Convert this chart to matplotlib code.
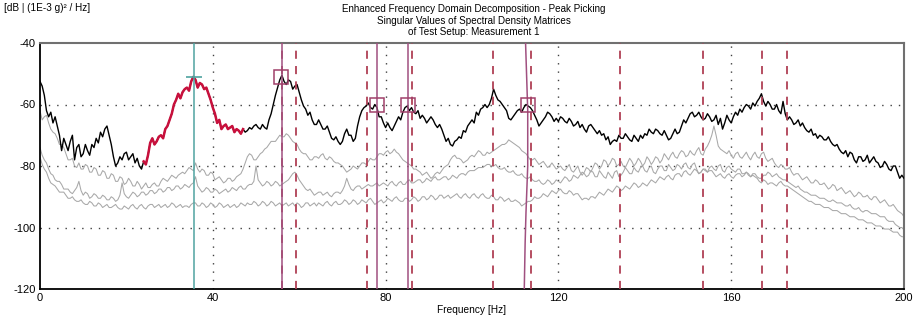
import matplotlib
matplotlib.use("Agg")
import matplotlib.pyplot as plt
import numpy as np

plt.rcParams['font.family'] = ['Liberation Sans', 'DejaVu Sans']

# ---------------- data ----------------
freq = list(range(0, 201))  # Hz, whole-Hz grid of the singular value curves

# first singular value at whole Hz
sv1_int = [-52.5, -57, -64, -66, -67, -75, -73, -72, -78, -73,
           -76, -75, -73, -71, -69, -68, -70, -77, -79, -78,
           -75.5, -77, -79, -80, -78.5, -76.5, -71, -72, -70, -68,
           -65, -60, -56.5, -56, -54.5, -52.5, -52, -53, -55, -56.5,
           -61, -66, -68, -66.5, -67.5, -69, -68.5, -68, -68.5, -68,
           -66.5, -68, -67.5, -65, -60, -54.5, -50.5, -53.5, -52.5, -54,
           -56, -60.5, -63.5, -65, -66.5, -66.5, -68, -69, -71.5, -72,
           -72, -68, -70, -71, -64, -61, -59.5, -61.5, -61, -64,
           -67.5, -67.5, -67, -64, -62.5, -60.5, -61, -63, -64.5, -64.5,
           -65, -65, -67.5, -68, -72, -73, -72, -70.5, -68.5, -67,
           -65, -62.5, -61.5, -60, -60, -55, -58.5, -60, -62, -65,
           -63, -61.5, -61, -60.5, -62, -65, -66, -64, -63, -65.5,
           -65.5, -64.5, -66, -65.5, -66.5, -67.5, -68, -67, -67.5, -69.5,
           -70, -71.5, -73, -71.5, -70, -71, -70.5, -72, -71, -70,
           -69.5, -68, -69.5, -68.5, -70, -70, -71, -68, -69, -65,
           -64.5, -62.5, -63.5, -64, -64.5, -64, -65, -66.5, -68, -63.5,
           -66, -62.5, -61.5, -61, -60.5, -59.5, -59, -56.5, -60.5, -60,
           -61.5, -62, -59, -65, -65, -66, -67, -67.5, -69, -70,
           -71, -70.5, -71.5, -72, -73.5, -74.5, -76, -77, -76, -79,
           -77, -78, -79, -77, -79, -80, -79.5, -81.5, -80, -84,
           -84]
# first singular value at the half-Hz points (0.5 ... 199.5)
sv1_half = [-54, -62, -62.5, -64, -70, -71, -75, -70, -74, -77,
            -73, -76.5, -74, -72.5, -70.5, -67, -73, -80, -77, -76,
            -78, -76, -77.5, -81, -79.5, -72.5, -73, -70.5, -71, -67,
            -63, -58.5, -58, -55, -55.5, -51, -54.5, -53.5, -54.5, -58.5,
            -63, -65, -67, -68, -67, -68, -69.5, -69, -67.5, -67,
            -67.5, -66.5, -68, -63, -57, -52, -52.5, -52, -55, -53.5,
            -58.5, -61.5, -62.5, -66.5, -65, -68, -67, -71, -70.5, -73,
            -69.5, -70, -72, -67, -62, -60.5, -61, -60, -64, -66,
            -66, -68.5, -65.5, -65, -61, -62, -62.5, -62, -63.5, -66,
            -64, -66.5, -66.5, -70, -71, -73.5, -71.5, -71, -69, -66,
            -66, -63.5, -61, -61, -58, -57, -59, -61, -64.5, -64,
            -62, -62.5, -60, -61, -63.5, -67, -65, -62.5, -64, -64.5,
            -64, -65.5, -64.5, -67, -65.5, -66.5, -69, -66.5, -68.5, -68.5,
            -69.5, -70.5, -72, -72, -71, -69.5, -71.5, -70, -72, -71,
            -70, -69, -68, -69.5, -68.5, -71.5, -69.5, -69.5, -67, -66,
            -63, -64, -62.5, -65, -63, -65.5, -63.5, -64.5, -66, -65,
            -64, -63.5, -62.5, -60, -61.5, -60.5, -58, -59, -59, -61.5,
            -60, -63, -63, -64, -66.5, -65, -66, -68.5, -68, -69.5,
            -70, -71.5, -70.5, -73, -73, -75.5, -75, -75.5, -78, -77,
            -78.5, -76.5, -78, -78.5, -80.5, -78.5, -81, -80, -82, -83]

sv2_int = [-62, -64, -66, -69, -71, -73, -76, -78, -80, -79,
           -81, -80, -82, -81, -83, -82, -84, -83, -85, -84,
           -85.5, -85, -86.5, -86, -86.5, -87, -86, -86.5, -85, -84.5,
           -84, -83.5, -83, -82, -81.5, -81, -79, -82, -81.5, -83,
           -82.5, -84, -84.5, -85, -84, -84.5, -83, -81, -77, -76.5,
           -78, -76, -74.5, -73, -72, -71, -70.5, -69.5, -71, -72.5,
           -74.5, -76, -77, -78, -77, -76.5, -77.5, -77, -78.5, -79,
           -80, -82, -81, -80.5, -80, -79, -78.5, -78, -77, -76,
           -75.5, -76, -74.5, -76, -78, -79, -80, -81, -82, -82.5,
           -83, -83.5, -82, -81.5, -80, -78, -76.5, -77.5, -79, -78,
           -76.5, -76, -75.5, -76.5, -76, -75, -74, -73, -72.5, -72,
           -73, -74, -75.5, -77, -78, -78.5, -79, -79.5, -80, -80,
           -80.5, -81, -80.5, -81.5, -81, -82, -82, -81, -80.5, -79.5,
           -80, -78.5, -79, -78, -79.5, -80, -79, -78.5, -79, -78.5,
           -79, -78, -78.5, -77.5, -78, -77, -76.5, -77, -76, -75.5,
           -76.5, -76, -75, -76, -74.5, -72, -67, -73.5, -75, -76,
           -76.5, -76, -77, -76.5, -77, -76.5, -77, -76, -77.5, -78,
           -79, -80.5, -80, -81, -82, -82.5, -83.5, -84, -84.5, -85.5,
           -85, -86, -86.5, -87, -86.5, -87.5, -88, -88.5, -89, -89.5,
           -89, -90, -90.5, -90, -91, -91.5, -92, -93, -93.5, -95,
           -96.5]
sv2_half = [-65, -63.5, -68, -69.5, -73, -74, -78, -77.5, -80.5, -81,
            -79.5, -82, -80.5, -83, -81.5, -84, -82.5, -85, -83.5, -86,
            -84, -86.5, -85, -87.5, -85.5, -87, -85.5, -86.5, -84, -85,
            -83, -84, -82.5, -82.5, -80.5, -81.5, -81, -81, -83, -82,
            -84.5, -83.5, -85.5, -84, -85, -83.5, -82.5, -79, -76, -78,
            -77, -75.5, -74, -72, -72, -70, -70.5, -70, -72, -73,
            -75.5, -76, -78, -77, -77.5, -76, -78, -77.5, -79, -79.5,
            -81, -81.5, -80, -81, -79, -79.5, -77.5, -78, -76, -76.5,
            -75, -75.5, -75.5, -77, -78.5, -79.5, -81, -81.5, -83, -82,
            -84, -82.5, -82.5, -80.5, -79.5, -77, -77.5, -78, -78.5, -77,
            -77, -75, -76.5, -75.5, -75.5, -74.5, -73.5, -73, -71.5, -72.5,
            -73.5, -75, -76, -78, -77.5, -79.5, -78.5, -80.5, -79, -81,
            -80, -81.5, -79.5, -82, -80, -83, -80.5, -82, -79, -81,
            -78, -80, -77.5, -80, -78.5, -80.5, -77.5, -80, -77.5, -80,
            -77, -79.5, -77, -79, -76, -78, -75.5, -77.5, -75, -77,
            -75, -76.5, -74, -76.5, -73.5, -70, -70, -74.5, -75.5, -75,
            -77.5, -75.5, -77.5, -75.5, -78, -75.5, -77.5, -75.5, -78.5, -77.5,
            -80, -79.5, -81, -80.5, -83, -82.5, -84.5, -83.5, -85.5, -84.5,
            -86, -85.5, -87.5, -86, -88, -87, -89, -88, -90, -88.5,
            -90, -89.5, -91, -90, -92, -91, -93, -92.5, -94.5, -95.5]

sv3_int = [-74, -78, -81, -83, -85, -86, -87.5, -88.5, -88, -85,
           -89.5, -89, -90, -89.5, -90.5, -90, -91, -90.5, -91, -85.5,
           -90, -89.5, -89, -89.5, -88.5, -89, -88, -88.5, -87.5, -88,
           -87, -87.5, -86.5, -87, -86.5, -86, -83.5, -87.5, -88, -87.5,
           -88.5, -88, -88.5, -87.5, -88, -87.5, -87, -87.5, -86.5, -86,
           -80, -85.5, -86, -85.5, -86, -85.5, -86, -85, -83.5, -82,
           -84.5, -86.5, -88, -88.5, -89, -88.5, -89, -89.5, -89, -88.5,
           -88, -84, -87.5, -87, -86.5, -87, -86, -86.5, -85.5, -86,
           -86, -85.5, -86, -85.5, -86, -85, -85.5, -85, -84.5, -85,
           -84.5, -84, -84.5, -84, -83.5, -84, -83.5, -83, -82.5, -82,
           -81.5, -81, -80.5, -80, -79.5, -80, -80.5, -81, -81.5, -82,
           -82.5, -83, -83.5, -84, -84.5, -85, -85.5, -85.5, -85, -85.5,
           -85, -84.5, -84, -84.5, -83.5, -83, -82.5, -83, -82, -83.5,
           -82.5, -84, -83, -82, -83.5, -82, -81.5, -82.5, -81.5, -80.5,
           -81.5, -80.5, -82, -81, -80, -81.5, -80.5, -81, -80, -79.5,
           -80.5, -79.5, -81, -82, -81.5, -80.5, -81, -80, -81.5, -80.5,
           -81, -82, -81, -82.5, -83, -82.5, -83.5, -84, -83, -82.5,
           -83, -83.5, -84.5, -85, -86, -87, -87.5, -88.5, -89, -89.5,
           -90, -90.5, -91, -91.5, -91.5, -92, -92.5, -93, -93.5, -94,
           -94.5, -94.5, -95, -95.5, -96, -96.5, -97.5, -98, -99, -100,
           -100.8]
sv3_half = [-76.5, -79, -82.5, -84.5, -85, -87.5, -87.5, -89, -87, -88,
            -88.5, -90.5, -89, -90.5, -89.5, -91, -90, -91.5, -89.5, -89,
            -90.5, -88.5, -90, -88.5, -89.5, -88, -89, -87.5, -88.5, -87,
            -88, -86.5, -87.5, -86, -87, -85.5, -86.5, -88.5, -87, -88.5,
            -87.5, -89, -88, -88.5, -87, -88, -86.5, -87.5, -86, -85,
            -84.5, -86.5, -85, -86.5, -85, -86.5, -85.5, -84.5, -82.5, -83,
            -85.5, -87.5, -87.5, -89.5, -88.5, -89.5, -88.5, -90, -88.5, -89,
            -86.5, -86, -88, -86.5, -87.5, -86.5, -86.5, -86, -86.5, -85.5,
            -86.5, -85, -86.5, -85, -86, -84.5, -85.5, -84.5, -85.5, -84,
            -85, -83.5, -84.5, -83.5, -84.5, -83, -84, -82.5, -83, -81.5,
            -81.5, -80.5, -80.5, -79.5, -80, -79.5, -81, -80.5, -82, -81.5,
            -83, -82.5, -84, -83.5, -85, -84.5, -86, -84.5, -86, -84.5,
            -85.5, -83.5, -85, -83, -84, -82, -83.5, -81.5, -83.5, -81.5,
            -83.5, -82, -84, -81.5, -83, -80.5, -82.5, -80.5, -82, -80,
            -82, -80, -82.5, -80, -81.5, -79.5, -81.5, -79.5, -81, -79,
            -81, -79, -82.5, -81, -82, -80, -81.5, -79.5, -82, -80,
            -81.5, -81, -82.5, -82, -83.5, -82.5, -84, -83, -82, -83.5,
            -82.5, -84, -84.5, -85.5, -86.5, -86.5, -88, -88.5, -89.5, -89.5,
            -90.5, -90.5, -91.5, -91, -92, -92, -93, -92.5, -94, -93.5,
            -95, -94.5, -95.5, -95.5, -96.5, -96.5, -98, -98, -99.5, -100]

sv4_int = [-77, -81, -84, -86, -87.5, -88.5, -89.5, -90.5, -91, -91.5,
           -92, -92.5, -92, -93, -92.5, -93, -93.5, -93, -93.5, -94,
           -93.5, -93, -93.5, -93, -93.5, -93, -92.5, -93, -93.5, -92.5,
           -93, -92.5, -93, -93.5, -93, -92.5, -92, -93, -92.5, -93,
           -92.5, -93, -92.5, -93, -93.5, -92.5, -93, -92.5, -92, -92.5,
           -92, -92.5, -92, -92.5, -92, -92.5, -93, -92, -92.5, -93,
           -92.5, -93, -92, -92.5, -93, -92.5, -92, -92.5, -92, -92.5,
           -92, -91.5, -92, -91.5, -92, -91.5, -91, -91.5, -92, -91,
           -91.5, -91, -90.5, -91, -91.5, -90.5, -91, -90.5, -91, -90,
           -90.5, -90, -90.5, -89.5, -90, -90.5, -89.5, -90, -89.5, -90,
           -89.5, -90, -89.5, -90, -90.5, -90, -91, -90.5, -91, -91.5,
           -91, -92, -92.5, -91.5, -91, -90.5, -90, -89.5, -89, -88.5,
           -88, -88.5, -89, -88.5, -89, -90, -90.5, -91, -90, -89.5,
           -89, -88.5, -88, -87.5, -87, -87.5, -87, -86.5, -86, -86.5,
           -86, -85.5, -85, -84.5, -84, -83.5, -84, -83, -82.5, -82,
           -82.5, -82, -81.5, -82, -81, -81.5, -82.5, -83, -83.5, -83,
           -83.5, -83, -82.5, -83, -82.5, -83, -84, -85.5, -85, -85.5,
           -86, -85.5, -86, -86.5, -87.5, -88.5, -89.5, -90.5, -91.5, -92,
           -92.5, -93, -93.5, -94, -94.5, -95, -95.5, -96, -96.5, -97,
           -97.5, -98, -98.5, -99, -99.5, -100, -100.5, -101, -101.5, -102.5,
           -103]
sv4_half = [-79.5, -82, -85.5, -86.5, -88.5, -88.5, -90.5, -90, -91.5, -91,
            -92.5, -91.5, -93, -92, -93.5, -92.5, -93.5, -92.5, -94, -93,
            -94, -92.5, -94, -92.5, -94, -92.5, -93.5, -92.5, -93, -93.5,
            -92, -93.5, -92.5, -93, -93.5, -92, -93, -92, -93.5, -92,
            -93.5, -92, -93.5, -92.5, -93, -93.5, -92, -93, -92.5, -91.5,
            -93, -91.5, -93, -91.5, -93, -92, -92.5, -93, -92, -92,
            -93.5, -92, -93, -92, -92, -93, -91.5, -93, -91.5, -92.5,
            -91, -92.5, -91, -92.5, -91, -92, -90.5, -92.5, -91.5, -92,
            -90.5, -91.5, -90, -91.5, -90.5, -91.5, -90, -91.5, -90, -91,
            -89.5, -91, -89.5, -90.5, -89.5, -90, -89, -90.5, -89, -90.5,
            -89, -90.5, -89, -90.5, -89.5, -91, -90, -91.5, -90.5, -91.5,
            -91.5, -93, -92, -91.5, -90, -90.5, -89, -90, -88, -89,
            -87.5, -89, -88, -89.5, -89, -91, -90.5, -90, -90.5, -88.5,
            -89.5, -87.5, -88.5, -86.5, -88, -86.5, -87.5, -85.5, -87, -85.5,
            -86.5, -84.5, -85.5, -83.5, -84.5, -83, -84.5, -82.5, -83.5, -81.5,
            -83, -81, -82.5, -81, -82, -81.5, -83.5, -82.5, -84, -82.5,
            -84, -82.5, -83.5, -82, -83.5, -83.5, -85, -84.5, -86, -85.5,
            -86.5, -85, -86.5, -87, -88, -89, -90, -91, -91.5, -92.5,
            -92.5, -93.5, -93.5, -94.5, -94.5, -95.5, -95.5, -96.5, -96.5, -97.5,
            -97.5, -98.5, -98.5, -99.5, -99.5, -100.5, -100.5, -101.5, -101.5, -103]

# selected band (highlighted) of the first singular value, Hz
band_start, band_end = 24, 47

# peak picking markers
peak_f = [55.8, 78.1, 85.3, 113.0]
peak_db = [-51, -60, -60, -60]

# frequency lines
dashed_f = [56.1, 59.2, 75.6, 86.2, 104.9, 113.6, 134.3, 153.5, 167.2, 172.9]
solid_f = [56.0, 78.0, 85.2]
slanted_f = [112.4, 112.9, 112.9, 112.5, 112.3, 112.1]
slanted_db = [-40, -62, -80, -95, -105, -120]
cursor_f = 35.6
cursor_db = -51

title_lines = ["Enhanced Frequency Domain Decomposition - Peak Picking",
               "Singular Values of Spectral Density Matrices",
               "of Test Setup: Measurement 1"]
ylabel_text = "[dB | (1E-3 g)\u00b2 / Hz]"
xlabel_text = "Frequency [Hz]"
xticks = [0, 40, 80, 120, 160, 200]
yticks = [-40, -60, -80, -100, -120]


def merge(ints, halves):
    fx, vals = [], []
    for i in range(len(ints)):
        fx.append(freq[i])
        vals.append(ints[i])
        if i < len(halves):
            fx.append(freq[i] + 0.5)
            vals.append(halves[i])
    return np.array(fx), np.array(vals)


f_fine, sv1 = merge(sv1_int, sv1_half)
_, sv2 = merge(sv2_int, sv2_half)
_, sv3 = merge(sv3_int, sv3_half)
_, sv4 = merge(sv4_int, sv4_half)
band = (f_fine >= band_start) & (f_fine <= band_end)

# ---------------- figure ----------------
fig = plt.figure(figsize=(9.2, 3.2), dpi=100)
ax = fig.add_axes([40/920, 1-289/320, 864/920, 246/320])

ax.set_xlim(0, 200)
ax.set_ylim(-120, -40)

for gx in xticks[1:-1]:
    ax.axvline(gx, color='#404040', lw=1.0, ls=(0, (1, 5)), zorder=1)
for gy in yticks[1:-1]:
    ax.axhline(gy, color='#404040', lw=1.0, ls=(0, (1, 5)), zorder=1)

grey = '#a8a8a8'
ax.plot(f_fine, sv4, color=grey, lw=0.75, zorder=2)
ax.plot(f_fine, sv3, color=grey, lw=0.75, zorder=2)
ax.plot(f_fine, sv2, color=grey, lw=0.75, zorder=2)
ax.plot(f_fine, sv1, color='black', lw=1.0, zorder=3)
ax.plot(f_fine[band], sv1[band], color='#c8103c', lw=1.8, zorder=4)

dash_col = '#b04055'
for f in dashed_f:
    ax.axvline(f, color=dash_col, lw=1.3, dashes=(4.5, 4), zorder=5)
sol_col = '#a05080'
for f in solid_f:
    ax.axvline(f, color=sol_col, lw=1.1, zorder=5)
ax.plot(slanted_f, slanted_db, color=sol_col, lw=1.1, zorder=5)

ax.axvline(cursor_f, color='#4fa3a0', lw=1.1, zorder=5)
ax.plot([cursor_f], [cursor_db], marker='_', ms=11, mew=1.2,
        color='#4fa3a0', zorder=6)

ax.plot(peak_f, peak_db, ls='none', marker='s', ms=10.5, mfc='none',
        mec='#a0406a', mew=1.1, zorder=6)

for s in ['left', 'bottom']:
    ax.spines[s].set_color('black')
    ax.spines[s].set_linewidth(1.3)
for s in ['top', 'right']:
    ax.spines[s].set_color('#707070')
    ax.spines[s].set_linewidth(1.5)

ax.set_xticks(xticks)
ax.set_yticks(yticks)
ax.set_xticklabels([str(v) for v in xticks], fontsize=8)
ax.set_yticklabels([str(v) for v in yticks], fontsize=8)
ax.tick_params(length=0, pad=3)

ax.set_xlabel(xlabel_text, fontsize=7.3, labelpad=1)

fig.text(4/920, 1-8/320, ylabel_text, fontsize=7.2, ha='left', va='center')
for i, line in enumerate(title_lines):
    fig.text(474/920, 1-(9+11.5*i)/320, line, fontsize=7.1,
             ha='center', va='center')

fig.savefig('out.png', dpi=100)
